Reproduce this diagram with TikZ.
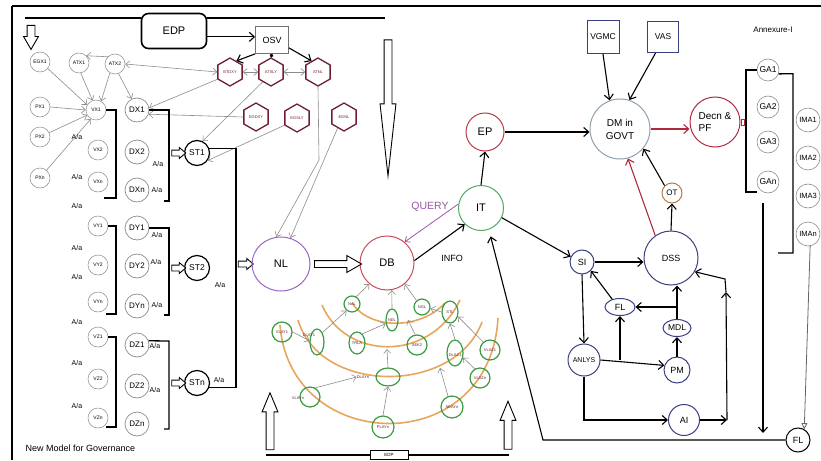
\documentclass[tikz,border=0pt]{standalone}
\usepackage{fontspec}
\setmainfont{Liberation Sans}
\usetikzlibrary{shapes.geometric,shapes.arrows,arrows.meta}
\definecolor{ltgray}{HTML}{8C8C8C}
\definecolor{hexred}{HTML}{6E1E30}
\definecolor{nlpurple}{HTML}{9A66C2}
\definecolor{dbred}{HTML}{CC4A5A}
\definecolor{itgreen}{HTML}{4DAA5E}
\definecolor{epred}{HTML}{B83A48}
\definecolor{dmgray}{HTML}{8EA0AC}
\definecolor{navy}{HTML}{3A3F80}
\definecolor{decred}{HTML}{B02A3E}
\definecolor{otbrown}{HTML}{B07A4A}
\definecolor{arcorange}{HTML}{E8A55C}
\definecolor{lygreen}{HTML}{3C9A42}
\definecolor{lytext}{HTML}{5A2E2E}
\definecolor{qpurple}{HTML}{9A55A8}

\begin{document}
\begin{tikzpicture}[x=1pt, y=-1pt,
    >={Straight Barb[length=4pt,width=7pt]},
    sm/.style={circle, draw=ltgray, line width=0.5pt, minimum size=20pt,
      inner sep=0pt, font=\fontsize{5}{5}\selectfont},
    md/.style={circle, draw=ltgray, line width=0.7pt, minimum size=24pt,
      inner sep=0pt, font=\fontsize{8}{8}\selectfont},
    st/.style={circle, draw=black, line width=1.2pt, minimum size=25pt,
      inner sep=0pt, font=\fontsize{8.5}{8.5}\selectfont},
    aa/.style={inner sep=0pt, font=\fontsize{7}{7}\selectfont},
    hexa/.style={regular polygon, regular polygon sides=6, shape border rotate=30,
      draw=hexred, line width=1.3pt, minimum size=28pt, inner sep=0pt,
      font=\fontsize{4}{4}\selectfont, text=hexred},
    bigc/.style={circle, line width=1pt, inner sep=0pt, align=center,
      font=\fontsize{11}{11}\selectfont},
    navyc/.style={circle, draw=navy, line width=1pt, inner sep=0pt,
      font=\fontsize{9}{9}\selectfont},
    navye/.style={ellipse, draw=navy, line width=1pt, inner sep=0pt,
      font=\fontsize{9}{9}\selectfont},
    vbox/.style={draw=navy, line width=1pt, inner sep=0pt,
      font=\fontsize{8.5}{8.5}\selectfont},
    ga/.style={circle, draw=ltgray, line width=0.6pt, minimum size=22pt,
      inner sep=0pt, font=\fontsize{8.5}{8.5}\selectfont},
    lc/.style={circle, draw=lygreen, line width=1.2pt, inner sep=0pt,
      font=\fontsize{4}{4}\selectfont, text=lytext},
    le/.style={ellipse, draw=lygreen, line width=1.2pt, inner sep=0pt,
      font=\fontsize{4}{4}\selectfont, text=lytext},
    ltxt/.style={inner sep=0pt, font=\fontsize{4}{4}\selectfont, text=lytext},
    orng/.style={draw=arcorange, line width=1.6pt},
    gry/.style={draw=ltgray, line width=0.6pt, ->},
    blk/.style={draw=black, line width=1.1pt, >={Straight Barb[length=5pt,width=9pt]}},
    brk/.style={draw=black, line width=1.3pt},
    hol/.style={single arrow, draw=black, line width=0.9pt, fill=white,
      inner xsep=0pt, single arrow head indent=0pt},
  ]
  \useasboundingbox (0,0) rectangle (821,460);
  \draw[line width=2pt] (12,6) -- (821,6);
  \draw[line width=1.4pt] (12,6) -- (12,460);

  % top strip
  \node[draw, rounded corners=7pt, line width=1.6pt, minimum width=65pt,
    minimum height=35pt, font=\fontsize{11}{11}\selectfont] (EDP) at (174,31) {EDP};
  \node[draw=black!55, line width=0.7pt, minimum width=33pt, minimum height=27pt,
    inner sep=0pt, font=\fontsize{9}{9}\selectfont] (OSV) at (272,40) {OSV};
  \coordinate (edpL) at (25,18);
  \coordinate (edpR) at (385,18);
  \draw[blk] (edpL) -- (edpL -| EDP.west);
  \draw[blk] (edpR -| EDP.east) -- (edpR);
  \node[hol, rotate=270, minimum height=24pt, inner ysep=3.5pt,
    single arrow head extend=3.5pt, single arrow tip angle=60] (dnL) at (31,34) {};
  \node[hol, rotate=270, minimum height=136pt, inner ysep=3.5pt,
    single arrow head extend=4pt, single arrow tip angle=12.6] (dnR) at (388,90) {};
  \draw[blk,->] (EDP.-10) -- (EDP.-10 -| OSV.west);

  \node[hexa] (BTDXY) at (230,72) {BTDXY};
  \node[hexa] (ATSLY) at (271,72) {ATSLY};
  \node[hexa] (ATNL) at (318,72) {ATNL};
  \node[hexa] (EGDXY) at (256,117) {EGDXY};
  \node[hexa] (EGSLY) at (297,118) {EGSLY};
  \node[hexa] (EGNL) at (344,117) {EGNL};
  \draw[blk,->] (OSV.south west) -- (BTDXY.60);
  \draw[blk,{Circle[length=3.5pt]}-] (OSV.south) -- (ATSLY.north);
  \draw[blk,->] (OSV.-25) -- (ATNL.120);
  \draw[gry,<->] (BTDXY.east) -- (ATSLY.west);
  \draw[gry,<->] (ATSLY.east) -- (ATNL.west);

  % left block
  \node[sm] (EGX1) at (40,62) {EGX1};
  \node[sm] (ATX1) at (79,63) {ATX1};
  \node[sm] (ATX2) at (115,64) {ATX2};
  \node[sm] (PX1) at (40,107) {PX1};
  \node[sm] (PX2) at (40,137) {PX2};
  \node[sm] (PXn) at (40,178) {PXn};
  \node[sm] (VX1) at (96,110) {VX1};
  \node[sm] (VX2) at (98,150) {VX2};
  \node[sm] (VXn) at (98,182) {VXn};
  \node[md] (DX1) at (137,110) {DX1};
  \node[md] (DX2) at (137,152) {DX2};
  \node[md] (DXn) at (137,190) {DXn};
  \node[sm] (VY1) at (98,226) {VY1};
  \node[sm] (VY2) at (98,265) {VY2};
  \node[sm] (VYn) at (98,302) {VYn};
  \node[md] (DY1) at (137,228) {DY1};
  \node[md] (DY2) at (137,266) {DY2};
  \node[md] (DYn) at (137,306) {DYn};
  \node[sm] (VZ1) at (98,337) {VZ1};
  \node[sm] (VZ2) at (98,379) {VZ2};
  \node[sm] (VZn) at (98,418) {VZn};
  \node[md] (DZ1) at (137,345) {DZ1};
  \node[md] (DZ2) at (137,386) {DZ2};
  \node[md] (DZn) at (137,424) {DZn};
  \node[st] (ST1) at (197,153) {ST1};
  \node[st] (ST2) at (197,268) {ST2};
  \node[st] (STn) at (197,383) {STn};

  \draw[gry] (ATX2.135) -- (ATX1.45);
  \draw[gry] (EGX1.-40) -- (VX1.150);
  \draw[gry] (ATX1.-80) -- (VX1.110);
  \draw[gry] (ATX2.-120) -- (VX1.60);
  \draw[gry] (ATX2.-70) -- (DX1.115);
  \draw[gry] (PX1.east) -- (VX1.west);
  \draw[gry] (PX2.25) -- (VX1.-150);
  \draw[gry] (PXn.50) -- (VX1.-120);
  \draw[gry,<->] (BTDXY.west) -- (ATX2.east);
  \draw[gry] (BTDXY.-150) -- (DX1.10);
  \draw[gry] (EGDXY.west) -- (DX1.-20);
  \draw[gry] (ATSLY.-130) -- (ST1.65);
  \draw[gry] (EGSLY.-150) -- (ST1.-35);

  \draw[brk] (VX1.east) -- (116,110) -- (116,198) -- (104,198);
  \draw[brk] (DX1.east) -- (169,110) -- (169,201) -- (164,201);
  \draw[brk] (VY1.east) -- (116,226) -- (116,314) -- (106,314);
  \draw[brk] (DY1.east) -- (169,228) -- (169,315) -- (164,315);
  \draw[brk] (VZ1.east) -- (116,337) -- (116,427) -- (106,427);
  \draw[brk] (DZ1.20) -- (169,341) -- (169,429) -- (164,429);
  \node[hol, minimum height=14pt, inner ysep=2.5pt, single arrow head extend=2.5pt,
    single arrow tip angle=80] (toST1) at (177,153) {};
  \node[hol, minimum height=14pt, inner ysep=2.5pt, single arrow head extend=2.5pt,
    single arrow tip angle=80] (toST2) at (177,268) {};
  \node[hol, minimum height=14pt, inner ysep=2.5pt, single arrow head extend=2.5pt,
    single arrow tip angle=80] (toSTn) at (177,383) {};

  \foreach \x/\y [count=\i] in {77/137, 77/177, 77/206, 158/164, 157/190,
      157/235, 156/262, 157/305, 77/248, 77/277, 220/285, 77/322, 155/346,
      77/363, 155/390, 219/380, 77/406}
    \node[aa] (Aa\i) at (\x,\y) {A/a};

  \coordinate (busT) at (236,149);
  \draw[brk] (ST1.20) -| (busT) |- (STn.-20);
  \node[hol, minimum height=15pt, inner ysep=2.5pt, single arrow head extend=2.5pt,
    single arrow tip angle=80] (toNL) at (244,264) {};

  \node[anchor=west, font=\fontsize{9}{9}\selectfont] (title) at (22,448)
    {New Model for Governance};

  % centre
  \node[ellipse, draw=nlpurple, line width=1pt, minimum width=58pt, minimum height=54pt,
    font=\fontsize{11}{11}\selectfont] (NL) at (281,264) {NL};
  \node[bigc, draw=dbred, minimum size=54pt] (DB) at (387,263) {DB};
  \node[bigc, draw=itgreen, minimum size=45pt] (IT) at (481,208) {IT};
  \node[bigc, draw=epred, minimum size=38pt] (EP) at (485,132) {EP};
  \node[hol, minimum height=47pt, inner ysep=3pt, single arrow head extend=5pt,
    single arrow tip angle=60] (nldb) at (335,264) {};
  \coordinate (atnlB) at (319,160);
  \draw[gry] (ATNL.south) -- (atnlB) -- (NL.100);
  \draw[gry] (EGNL.-120) -- (NL.70);
  \draw[qpurple, line width=0.8pt, ->] (IT.170) -- (DB.50);
  \node[text=qpurple, font=\fontsize{10.5}{10.5}\selectfont] (query) at (430,207) {QUERY};
  \draw[blk,->] (DB.5) -- (IT.-135);
  \node[font=\fontsize{9}{9}\selectfont] (info) at (452,258) {INFO};
  \draw[blk,->] (IT.north) -- (EP.south);

  % layers below DB
  \draw[orng] (352,303) .. controls (370,330) and (420,330) .. (445,303);
  \draw[orng] (322,305) .. controls (345,360) and (430,363) .. (460,300);
  \draw[orng] (298,320) .. controls (320,395) and (455,395) .. (482,322);
  \draw[orng] (280,325) .. controls (290,455) and (490,460) .. (498,318);
  \node[lc, minimum size=16pt] (NAL) at (352,304) {NAL};
  \node[le, minimum width=12pt, minimum height=22pt] (NEL) at (392,320) {NEL};
  \node[lc, minimum size=16pt] (NGL) at (422,307) {NGL};
  \node[le, minimum width=16pt, minimum height=22pt] (STL) at (450,312) {STL};
  \node[lc, minimum size=20pt] (VLAY1) at (282,332) {VLAY1};
  \node[le, minimum width=14pt, minimum height=26pt] (DLAY1) at (317,342) {};
  \node[ltxt] (DLAY1T) at (309,335) {DLAY1};
  \node[le, minimum width=16pt, minimum height=22pt] (TRLA) at (357,343) {TRLA};
  \node[lc, minimum size=20pt] (SEK2) at (417,345) {SEK2};
  \node[le, minimum width=16pt, minimum height=26pt] (DLAZ1) at (455,353) {};
  \node[ltxt] (DLAZ1T) at (455,355) {DLAZ1};
  \node[lc, minimum size=20pt] (VLAZ1) at (490,350) {VLAZ1};
  \node[le, minimum width=24pt, minimum height=18pt] (DLAYn) at (388,377) {};
  \node[ltxt] (DLAYnT) at (363,377) {DLAYn};
  \node[lc, minimum size=20pt] (VLAZn) at (480,378) {VLAZn};
  \node[lc, minimum size=20pt] (VLAYn) at (310,397) {};
  \node[ltxt] (VLAYnT) at (298,398) {VLAYn};
  \node[lc, minimum size=22pt] (SEAYn) at (452,407) {SEAYn};
  \node[lc, minimum size=22pt] (PLAYn) at (383,427) {PLAYn};
  \coordinate (arc1p) at (408,320);
  \coordinate (arc2p) at (387,349);
  \coordinate (arc3p) at (440,368);
  \draw[gry] (NAL.60) -- (DB.-130);
  \draw[gry] (NEL.north) -- (DB.-80);
  \draw[gry] (NGL.130) -- (DB.-50);
  \draw[gry] (STL.west) -- (NGL.-10);
  \draw[gry] (TRLA.60) -- (NEL.-150);
  \draw[gry] (SEK2.100) -- (arc1p);
  \draw[gry] (DLAYn.north) -- (arc2p);
  \draw[gry] (PLAYn.north) -- (DLAYn.south);
  \draw[gry] (VLAYn.60) -- (DLAYnT.west);
  \draw[gry] (VLAY1.east) -- (DLAY1.170);
  \draw[gry] (DLAY1.60) -- (NAL.-130);
  \draw[gry] (SEAYn.110) -- (arc3p);
  \draw[gry] (VLAZn.120) -- (DLAZ1.-30);
  \draw[gry] (VLAZ1.130) -- (STL.-30);
  \draw[gry] (DLAZ1.north) -- (STL.south);

  % bottom strip
  \node[draw, line width=0.8pt, minimum width=38pt, minimum height=9pt, inner sep=0pt,
    fill=white, font=\fontsize{4.5}{4.5}\selectfont] (EDPb) at (389,455) {EDP};
  \coordinate (botL) at (266,455);
  \coordinate (botR) at (509,455);
  \draw[blk] (botL) -- (EDPb.west);
  \draw[blk] (EDPb.east) -- (botR);
  \node[hol, rotate=90, minimum height=57pt, inner ysep=3.5pt,
    single arrow head extend=4pt, single arrow tip angle=45] (upL) at (270,426) {};
  \node[hol, rotate=90, minimum height=48pt, inner ysep=3.5pt,
    single arrow head extend=4pt, single arrow tip angle=45] (upR) at (508,430) {};

  % right part
  \node[bigc, draw=dmgray, minimum size=60pt, font=\fontsize{10}{13}\selectfont]
    (DM) at (620,129) {DM in\\GOVT};
  \node[vbox, minimum width=32pt, minimum height=33pt] (VGMC) at (603,37) {VGMC};
  \node[vbox, minimum width=31pt, minimum height=31pt] (VAS) at (663,37) {VAS};
  \node[bigc, draw=decred, minimum size=50pt, align=left,
    font=\fontsize{10}{12}\selectfont] (Decn) at (715,122) {Decn \&\\PF};
  \node[draw=decred, line width=0.8pt, minimum width=3pt, minimum height=6pt,
    inner sep=0pt, anchor=west] (dcap) at (Decn.east) {};
  \draw[blk,->] (EP.east) -- (EP.east -| DM.west);
  \draw[blk,->] (VGMC.south) -- (DM.110);
  \draw[blk,->] (VAS.-115) -- (DM.72);
  \draw[blk, draw=decred, ->] (DM.east) -- (DM.east -| Decn.west);

  \node[font=\fontsize{8}{8}\selectfont] (annex) at (773,30) {Annexure-I};
  \node[ga] (GA1) at (768,70) {GA1};
  \node[ga] (GA2) at (768,107) {GA2};
  \node[ga] (GA3) at (768,142) {GA3};
  \node[ga] (GAn) at (768,182) {GAn};
  \draw[brk] (GA1.west) -- (746,70) -- (746,192) -- (757,192);
  \draw[brk] (GA1.-20) -- (793,73.8) -- (793,253) -- (778,253);
  \node[ga, minimum size=24pt, font=\fontsize{7.5}{7.5}\selectfont] (IMA1) at (808,120) {IMA1};
  \node[ga, minimum size=24pt, font=\fontsize{7.5}{7.5}\selectfont] (IMA2) at (808,158) {IMA2};
  \node[ga, minimum size=24pt, font=\fontsize{7.5}{7.5}\selectfont] (IMA3) at (808,196) {IMA3};
  \node[ga, minimum size=24pt, font=\fontsize{7.5}{7.5}\selectfont] (IMAn) at (808,234) {IMAn};
  \coordinate (gaT) at (763,203);
  \coordinate (gaB) at (763,433);
  \draw[blk,->] (gaT) -- (gaB);

  \node[navyc, minimum size=54pt] (DSS) at (671,258) {DSS};
  \node[navyc, minimum size=24pt] (SI) at (582,262) {SI};
  \node[navye, minimum width=30pt, minimum height=17pt] (FLs) at (620,307) {FL};
  \node[navye, minimum width=28pt, minimum height=17pt, font=\fontsize{8.5}{8.5}\selectfont]
    (MDL) at (677,328) {MDL};
  \node[navyc, minimum size=32pt, font=\fontsize{7}{7}\selectfont] (ANLYS) at (584,360) {ANLYS};
  \node[navyc, minimum size=26pt] (PM) at (677,370) {PM};
  \node[navyc, minimum size=31pt] (AI) at (684,420) {AI};
  \node[circle, draw=otbrown, line width=1pt, minimum size=20pt, inner sep=0pt,
    font=\fontsize{8}{8}\selectfont] (OT) at (672,193) {OT};
  \node[circle, draw=black, line width=1pt, minimum size=24pt, inner sep=0pt,
    font=\fontsize{9}{9}\selectfont] (FLb) at (798,440) {FL};

  \draw[blk,->] (IT.-25) -- (SI.155);
  \draw[blk,->] (SI.east) -- (SI.east -| DSS.west);
  \draw[blk,->] (SI.south) -- (ANLYS.north);
  \draw[blk,->] (FLs.135) -- (SI.-45);
  \draw[blk,->] (MDL.north) -- (MDL.north |- DSS.south);
  \coordinate (jm) at (MDL.north |- FLs.east);
  \draw[blk,->] (jm) -- (FLs.east);
  \draw[blk,->] (PM.north) -- (MDL.south);
  \draw[blk,->] (ANLYS.east) -- (PM.160);
  \coordinate (ja) at (FLs.south |- ANLYS.east);
  \draw[blk,->] (ja) -- (FLs.south);
  \draw[blk,->] (ANLYS.south) |- (AI.west);
  \coordinate (aiR) at (727,420);
  \coordinate (aiM) at (726,292);
  \coordinate (aiT) at (725,279);
  \draw[blk,->] (AI.east) -- (aiR);
  \draw[blk,->] (aiR) -- (aiM);
  \draw[blk,->] (aiM) -- (aiT) -- (DSS.-30);
  \draw[blk,->] (DSS.north) -- (OT.south);
  \draw[blk,->] (OT.135) -- (DM.-40);
  \draw[blk, draw=decred, ->] (DSS.125) -- (DM.-75);
  \coordinate (flC) at (543,440);
  \draw[blk,->,shorten >=7pt] (FLb.west) -- (flC) -- (IT.-70);
  \draw[black!60, line width=0.8pt, -{Triangle[open,length=6pt,width=6pt]}]
    (IMAn.-80) -- (FLb.60);
\end{tikzpicture}
\end{document}
